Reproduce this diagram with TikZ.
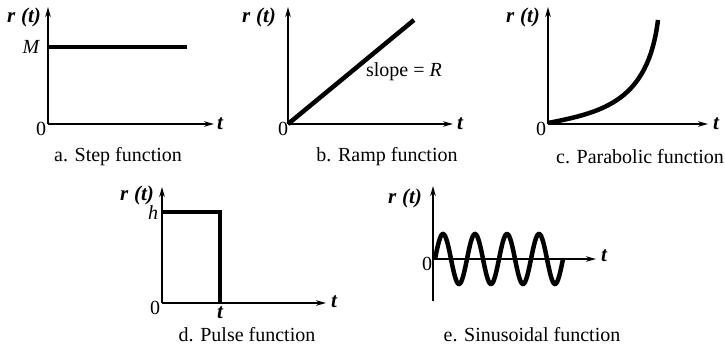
\documentclass[tikz,border=0pt]{standalone}
\usepackage{fontspec}
\setmainfont{Liberation Serif}
\usetikzlibrary{arrows.meta}
\begin{document}
\begin{tikzpicture}[x=1pt,y=-1pt,
  axis/.style={line width=2.1pt,-{Stealth[length=10pt,width=5.5pt]}},
  fn/.style={line width=4.5pt},
  lbl/.style={font=\fontsize{21}{23}\selectfont\bfseries\itshape, inner sep=0pt},
  ital/.style={font=\fontsize{20}{22}\selectfont\itshape, inner sep=0pt},
  num/.style={font=\fontsize{20}{22}\selectfont, inner sep=0pt},
  captext/.style={font=\fontsize{20}{22}\selectfont, inner sep=0pt}]
\useasboundingbox (0,0) rectangle (725,345);
% ---- a. Step
\coordinate (aO) at (48,124);
\coordinate (aY) at (48,7);
\coordinate (aX) at (214,124);
\coordinate (aM) at (48,47);
\coordinate (aE) at (187,47);
\draw[axis] (aO) -- (aY);
\draw[axis] (aO) -- (aX);
\draw[fn] (aM) -- (aE);
\node[lbl] (ar) at (24,17) {r\;(t)};
\node[ital] (aMl) at (31,47) {M};
\node[num] (a0) at (41,129) {0};
\node[lbl] (at) at (220,124) {t};
\node[captext] (acap) at (118,157) {a. Step function};
% ---- b. Ramp
\coordinate (bO) at (288,124);
\coordinate (bY) at (288,7);
\coordinate (bX) at (453,124);
\coordinate (bE) at (414,20);
\draw[axis] (bO) -- (bY);
\draw[axis] (bO) -- (bX);
\draw[fn] (bO) -- (bE);
\node[lbl] (br) at (259,17) {r\;(t)};
\node[num] (bs) at (404,72) {slope = \textit{R}};
\node[num] (b0) at (283,129) {0};
\node[lbl] (bt) at (460,124) {t};
\node[captext] (bcap) at (387,157) {b. Ramp function};
% ---- c. Parabolic
\coordinate (cO) at (548,124);
\coordinate (cY) at (548,7);
\coordinate (cX) at (708,124);
\coordinate (cS) at (548,123);
\coordinate (cE) at (658,20);
\draw[axis] (cO) -- (cY);
\draw[axis] (cO) -- (cX);
\draw[fn] (cS) .. controls (605,112) and (648,100) .. (cE);
\node[lbl] (cr) at (523,17) {r\;(t)};
\node[num] (c0) at (541,129) {0};
\node[lbl] (ct) at (716,124) {t};
\node[captext] (ccap) at (640,157) {c. Parabolic function};
% ---- d. Pulse
\coordinate (dO) at (162,303);
\coordinate (dY) at (162,187);
\coordinate (dX) at (326,303);
\coordinate (dH) at (162,212);
\coordinate (dT) at (220,212);
\coordinate (dB) at (220,303);
\draw[axis] (dO) -- (dY);
\draw[axis] (dO) -- (dX);
\draw[fn] (dH) -- (dT) -- (dB);
\node[lbl] (dr) at (137,195) {r\;(t)};
\node[ital] (dh) at (153,213) {h};
\node[num] (d0) at (155,308) {0};
\node[lbl] (dtt) at (220,313) {t};
\node[lbl] (dt) at (334,302) {t};
\node[captext] (dcap) at (247,335) {d. Pulse function};
% ---- e. Sinusoidal
\coordinate (eB) at (433,301);
\coordinate (eY) at (433,186);
\coordinate (eO) at (433,259);
\coordinate (eX) at (596,259);
\draw[axis] (eB) -- (eY);
\draw[axis] (eO) -- (eX);
\draw[fn] plot[domain=0:4,samples=160,smooth] ({435+32*\x},{259-25*sin(360*\x)});
\node[lbl] (er) at (405,198) {r\;(t)};
\node[num] (e0) at (427,264) {0};
\node[lbl] (et) at (604,256) {t};
\node[captext] (ecap) at (532,335) {e. Sinusoidal function};
\end{tikzpicture}
\end{document}
